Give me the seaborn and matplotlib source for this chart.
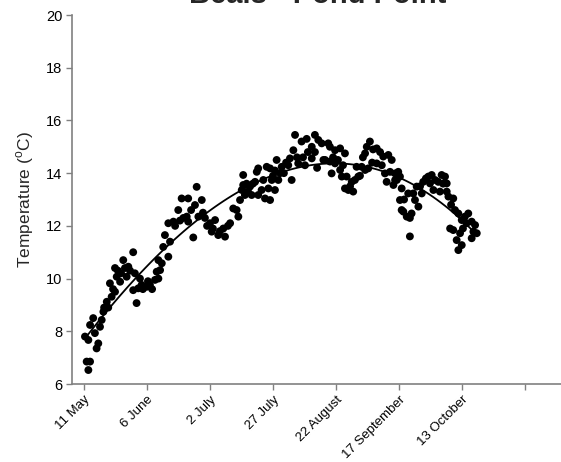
import matplotlib
matplotlib.use("Agg")
import matplotlib.pyplot as plt
import seaborn as sns
import numpy as np
import pandas as pd

# Days after 11 May, daily mean water temperature (deg C)
day = [0.4, 1.1, 1.8, 1.8, 2.5, 2.5, 3.8, 4.5, 5.2, 5.9, 6.6, 7.3, 8.0, 8.3, 9.4, 10.0,
       10.7, 11.4, 12.0, 12.8, 12.8, 13.5, 14.0, 14.9, 15.3, 16.2, 16.9, 17.6, 18.3, 19.0,
       20.3, 20.3, 21.0, 21.7, 22.4, 23.1, 23.8, 24.3, 25.9, 26.4, 27.2, 28.1, 29.3, 30.0,
       30.7, 30.7, 31.4, 32.1, 32.7, 33.4, 34.8, 34.8, 35.5, 36.9, 37.6, 38.9, 39.6, 40.3,
       41.0, 42.4, 43.0, 43.0, 44.2, 45.1, 45.8, 46.5, 47.2, 48.6, 49.1, 49.9, 50.8, 52.0,
       52.7, 53.2, 54.1, 55.4, 56.1, 57.5, 58.2, 59.4, 60.3, 61.6,
       63.0, 63.7, 64.4, 65.1, 65.7, 65.7, 66.4, 67.1, 67.7, 68.5, 69.2, 69.7, 70.6, 71.3,
       71.9, 71.9, 73.3, 74.0, 74.7, 75.4, 76.1, 76.8, 76.8, 77.5, 78.0, 78.8, 78.8, 79.5,
       80.2, 80.9, 81.6, 82.5, 83.4, 84.3, 85.0, 85.7, 86.4, 87.1, 87.9, 88.4, 89.8, 90.4,
       91.2, 91.9, 92.4, 94.0, 94.0, 95.3, 95.3, 96.2, 96.7, 98.1, 98.8,
       99.5, 100.8, 101.5, 101.5, 102.2, 102.8, 103.6, 103.6, 104.8, 105.7, 105.7, 106.4,
       106.9, 107.7, 107.7, 108.4, 109.1, 109.8, 110.5, 111.1, 111.8, 112.5, 113.2, 113.9,
       114.6, 115.1, 116.0, 116.0, 116.7, 117.3, 118.0, 118.9, 119.3, 120.8, 120.8, 122.2,
       122.9, 123.5, 124.2, 124.9, 125.6, 126.3, 127.0, 127.7, 128.4, 128.4,
       129.1, 129.7, 130.4, 130.4, 131.1, 131.1, 131.8, 132.1, 133.2, 133.8, 134.5, 134.5,
       135.2, 135.9, 136.6, 137.3, 138.0, 138.7, 139.4, 140.0, 141.1, 142.1, 142.8, 143.5,
       144.2, 144.9, 146.2, 146.9, 147.6, 148.2, 149.0, 149.7, 149.7, 150.4, 151.1, 151.5,
       152.4, 152.4, 153.1, 153.8, 154.5, 154.5, 155.2, 155.9, 155.9, 156.4, 157.2, 157.9,
       158.6, 160.0, 160.0, 160.7, 161.4, 162.1]

temp = [7.8, 6.85, 6.53, 7.67, 6.85, 8.24, 8.5, 7.93, 7.35, 7.54, 8.17, 8.43, 8.74, 8.9, 9.12, 8.9,
        9.82, 9.31, 9.6, 9.5, 10.4, 10.07, 10.3, 9.88, 10.2, 10.7, 10.4, 10.07, 10.45, 10.3,
        11.0, 9.56, 10.2, 9.07, 9.63, 10.0, 9.76, 9.6, 9.69, 9.9, 9.76, 9.6, 9.95, 10.26,
        10.0, 10.7, 10.32, 10.58, 11.2, 11.65, 10.83, 12.1, 11.4, 12.16, 12.0, 12.6, 12.2, 13.04,
        12.3, 12.35, 13.04, 12.16, 12.6, 11.56, 12.79, 13.48, 12.35, 12.98, 12.5, 12.3, 12.0, 12.1,
        11.78, 11.9, 12.22, 11.65, 11.8, 11.9, 11.59, 12.0, 12.1, 12.66,
        12.6, 12.35, 12.98, 13.36, 13.93, 13.55, 13.17, 13.6, 13.3, 13.49, 13.17, 13.6, 13.67, 14.05,
        14.18, 13.17, 13.36, 13.74, 13.04, 14.24, 13.42, 14.18, 12.98, 13.74, 13.9, 14.1, 13.36, 14.5,
        13.74, 14.0, 14.24, 14.0, 14.4, 14.3, 14.56, 13.74, 14.87, 15.45, 14.6, 14.37, 15.2, 14.6,
        14.3, 15.3, 14.8, 15.0, 14.56, 15.45, 14.8, 14.2, 15.26, 15.13, 14.5,
        14.5, 15.13, 15.0, 14.44, 13.99, 14.6, 14.87, 14.37, 14.5, 14.94, 14.12, 13.87,
        14.3, 14.75, 13.42, 13.87, 13.36, 13.5, 13.67, 13.3, 13.74, 14.24, 13.87, 13.9,
        14.24, 14.6, 14.12, 14.75, 15.0, 14.18, 15.2, 14.4, 14.9, 14.94, 14.37, 14.8,
        14.3, 14.63, 13.99, 13.67, 14.69, 14.05, 14.5, 13.55, 13.99, 13.74,
        13.74, 14.05, 13.87, 12.98, 13.42, 12.6, 12.54, 13.0, 12.35, 13.23, 12.3, 11.6,
        12.47, 13.23, 12.98, 13.49, 12.73, 13.5, 13.23, 13.67, 13.8, 13.87, 13.61, 13.93,
        13.36, 13.74, 13.67, 13.3, 13.93, 13.6, 13.87, 13.61, 13.3, 13.11, 11.9, 12.8,
        13.04, 11.84, 12.6, 11.46, 12.47, 11.08, 11.72, 12.22, 11.27, 11.9, 12.35, 12.1,
        12.47, 12.16, 11.53, 11.78, 12.03, 11.72]

tick_days = [0, 26, 52, 78, 104, 130, 156, 182]
tick_labels = ["11 May", "6 June", "2 July", "27 July", "22 August",
               "17 September", "13 October", ""]
y_ticks = [6, 8, 10, 12, 14, 16, 18, 20]
title = "Beals - Pond Point"

sns.set_theme(style="white")
plt.rcParams['font.family'] = ['Liberation Sans', 'DejaVu Sans']
plt.rcParams['mathtext.fontset'] = 'custom'
plt.rcParams['mathtext.rm'] = 'Liberation Sans'

df = pd.DataFrame({"day": day, "temp": temp})

fig = plt.figure(figsize=(5.61, 4.62), dpi=100)
ax = fig.add_axes([72/561, 1 - 384/462, 1 - 72/561, (384 - 15)/462])

sns.regplot(data=df, x="day", y="temp", order=3, ci=None, ax=ax,
            scatter_kws=dict(s=32, color="black", edgecolor="none", alpha=1),
            line_kws=dict(color="black", lw=1.3))

ax.set_xlim((72 - 84) / 2.423, (561 - 84) / 2.423)
ax.set_ylim(6, 20)
ax.set_xticks(tick_days)
ax.set_xticklabels(tick_labels, rotation=45, ha="right", rotation_mode="anchor", fontsize=9.5)
ax.set_yticks(y_ticks)
ax.set_yticklabels([str(v) for v in y_ticks], fontsize=10.5)
ax.set_xlabel("")
ax.set_ylabel(r"Temperature ($^{\mathrm{o}}$C)", fontsize=12.5, labelpad=7)

for s in ["top", "right"]:
    ax.spines[s].set_visible(False)
for s in ["left", "bottom"]:
    ax.spines[s].set_color("#808080")
    ax.spines[s].set_linewidth(1.2)
ax.tick_params(axis="both", direction="out", length=4, width=1, color="#808080",
               labelcolor="black", left=True, bottom=True, pad=3)

fig.text(318/561, 1 - 3/462, title, ha="center", va="baseline",
         fontsize=21, fontweight="bold")

fig.savefig("out.png", dpi=100)
